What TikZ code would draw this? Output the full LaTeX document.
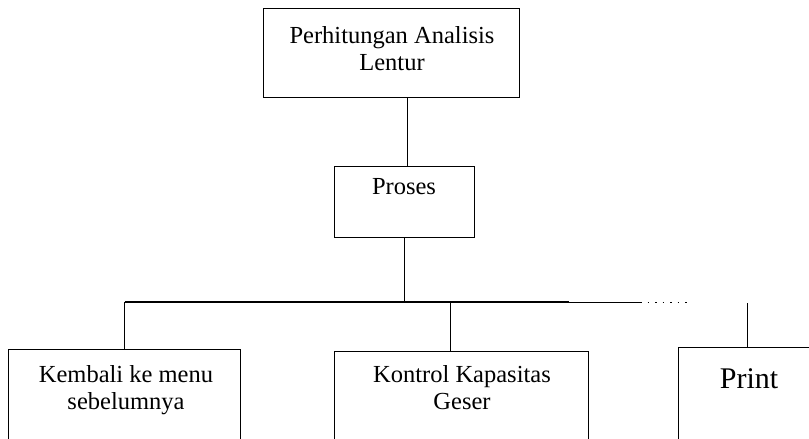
\documentclass[tikz,border=0pt]{standalone}
\usepackage{fontspec}
\setmainfont{Liberation Serif}
\begin{document}
\begin{tikzpicture}[x=1pt,y=-1pt,
  box/.style={draw, line width=1.3pt, rectangle, inner sep=0pt, anchor=north west},
  txt/.style={inner sep=0pt, align=center, font=\fontsize{24.5}{27}\selectfont},
  bigtxt/.style={inner sep=0pt, align=center, font=\fontsize{30}{33}\selectfont},
  wire/.style={line width=1.3pt}]
\clip (0,0) rectangle (809,439);
\fill[white] (0,0) rectangle (809,439);

% boxes
\node[box, minimum width=256pt, minimum height=89pt] (top) at (263,8) {};
\node[box, minimum width=140pt, minimum height=71pt] (proses) at (334,166) {};
\node[box, minimum width=232pt, minimum height=130pt] (kembali) at (8,349) {};
\node[box, minimum width=254pt, minimum height=130pt] (kontrol) at (334,351) {};
\node[box, minimum width=138pt, minimum height=130pt] (print) at (678,347) {};

% labels
\node[txt] (topt) at (392,49) {Perhitungan Analisis\\Lentur};
\node[txt] (prosest) at (404,187) {Proses};
\node[txt] (kembalit) at (126,390) {Kembali ke menu\\sebelumnya};
\node[txt] (kontrolt) at (462,388) {Kontrol Kapasitas\\Geser};
\node[bigtxt] (printt) at (749,379) {Print};

% bus line
\coordinate (bus) at (proses.south |- 0,302);
\coordinate (busend) at (569,302);
\coordinate (fadeA) at (640,302);
\coordinate (fadeB) at (692,302);
\coordinate (printup) at (print.north |- 0,303);

% connectors
\draw[wire] ([xshift=16pt]top.south) -- ([xshift=16pt]top.south |- proses.north);
\draw[wire] (proses.south) -- (bus);
\draw[wire] (kembali.north |- bus) -- (busend);
\draw[line width=0.6pt] (busend) -- (fadeA);
\draw[line width=0.6pt, dash pattern=on 1.5pt off 6pt] (fadeA) -- (fadeB);
\draw[wire] (kembali.north |- bus) -- (kembali.north);
\draw[wire] ([xshift=-11pt]kontrol.north |- bus) -- ([xshift=-11pt]kontrol.north);
\draw[wire] (printup) -- (print.north);
\end{tikzpicture}
\end{document}
